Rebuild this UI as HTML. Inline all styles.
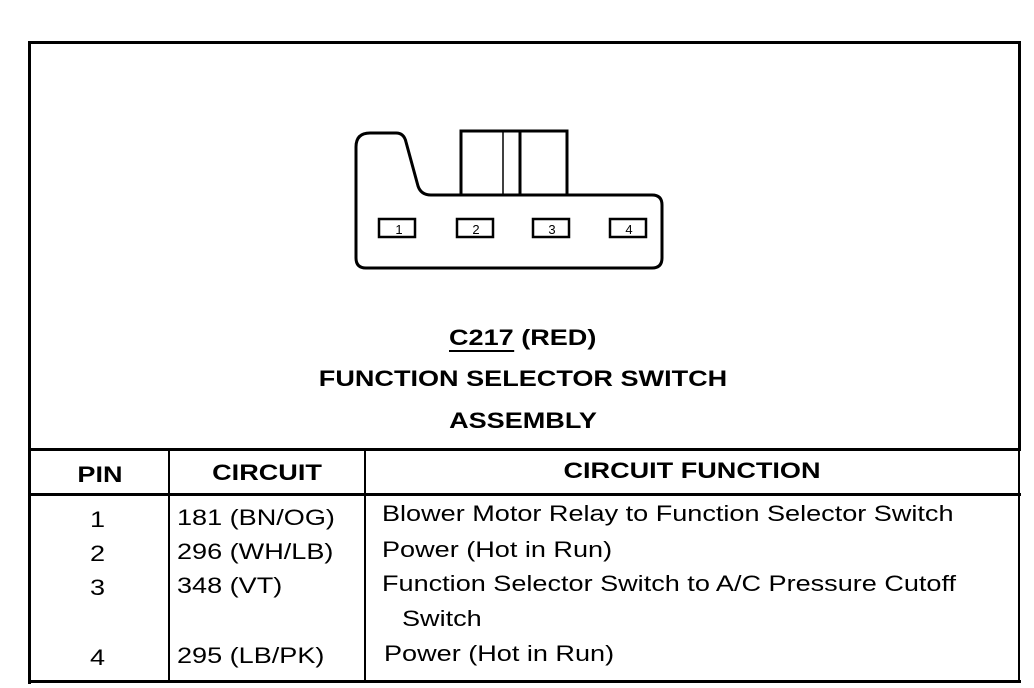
<!DOCTYPE html>
<html><head><style>
body{margin:0;background:#fff;width:1034px;height:688px;position:relative;overflow:hidden;font-family:"Liberation Sans",Arial,sans-serif;color:#000}
.t{position:absolute;white-space:nowrap;transform:scaleX(1.23);transform-origin:0 0}
.c{transform-origin:50% 0}
.b{font-weight:bold;font-size:22px}
.r{font-size:22px}
.l{position:absolute;background:#000}
</style></head><body>
<div class="l" style="left:28px;top:41px;width:993px;height:3px"></div>
<div class="l" style="left:28px;top:41px;width:3px;height:643px"></div>
<div class="l" style="left:1018px;top:41px;width:3px;height:410px"></div>
<div class="l" style="left:28px;top:448px;width:993px;height:3px"></div>
<div class="l" style="left:28px;top:493px;width:993px;height:3px"></div>
<div class="l" style="left:28px;top:680px;width:993px;height:3px"></div>
<div class="l" style="left:1018px;top:448px;width:2px;height:235px"></div>
<div class="l" style="left:168px;top:448px;width:2px;height:235px"></div>
<div class="l" style="left:364px;top:448px;width:2px;height:235px"></div>

<svg width="1034" height="688" style="position:absolute;left:0;top:0" fill="none" stroke="#000" stroke-width="3">
<path d="M370,133 L396,133 Q404,133 406,142 L418,186 Q421,195 431,195 L652,195 Q662,195 662,205 L662,258 Q662,268 652,268 L366,268 Q356,268 356,258 L356,147 Q356,133 370,133 Z"/>
<rect x="461" y="131" width="59" height="64"/>
<line x1="503" y1="131" x2="503" y2="195" stroke-width="1.5"/>
<rect x="520" y="131" width="47" height="64"/>
<g stroke-width="2.5"><rect x="379" y="219" width="36" height="18"/><rect x="457" y="219" width="36" height="18"/><rect x="533" y="219" width="36" height="18"/><rect x="610" y="219" width="36" height="18"/></g>
<g fill="#000" stroke="none" font-family="Liberation Sans" font-size="13" text-anchor="middle"><text x="399" y="234">1</text><text x="476" y="234">2</text><text x="552" y="234">3</text><text x="629" y="234">4</text></g>
</svg>

<div class="t b" style="left:449px;top:325px"><span style="border-bottom:2px solid #000">C217</span> (RED)</div>
<div class="t b c" style="left:0;width:1046px;text-align:center;top:366px">FUNCTION SELECTOR SWITCH</div>
<div class="t b c" style="left:0;width:1046px;text-align:center;top:408px">ASSEMBLY</div>

<div class="t b c" style="left:30px;width:140px;text-align:center;top:462px">PIN</div>
<div class="t b c" style="left:170px;width:194px;text-align:center;top:460px">CIRCUIT</div>
<div class="t b c" style="left:366px;width:652px;text-align:center;top:458px">CIRCUIT FUNCTION</div>

<div class="t r" style="left:90px;top:507px">1</div>
<div class="t r" style="left:90px;top:541px">2</div>
<div class="t r" style="left:90px;top:575px">3</div>
<div class="t r" style="left:90px;top:645px">4</div>
<div class="t r" style="left:177px;top:505px">181 (BN/OG)</div>
<div class="t r" style="left:177px;top:539px">296 (WH/LB)</div>
<div class="t r" style="left:177px;top:573px">348 (VT)</div>
<div class="t r" style="left:177px;top:643px">295 (LB/PK)</div>
<div class="t r" style="left:382px;top:501px">Blower Motor Relay to Function Selector Switch</div>
<div class="t r" style="left:382px;top:537px">Power (Hot in Run)</div>
<div class="t r" style="left:382px;top:571px">Function Selector Switch to A/C Pressure Cutoff</div>
<div class="t r" style="left:402px;top:606px">Switch</div>
<div class="t r" style="left:384px;top:641px">Power (Hot in Run)</div>
</body></html>
